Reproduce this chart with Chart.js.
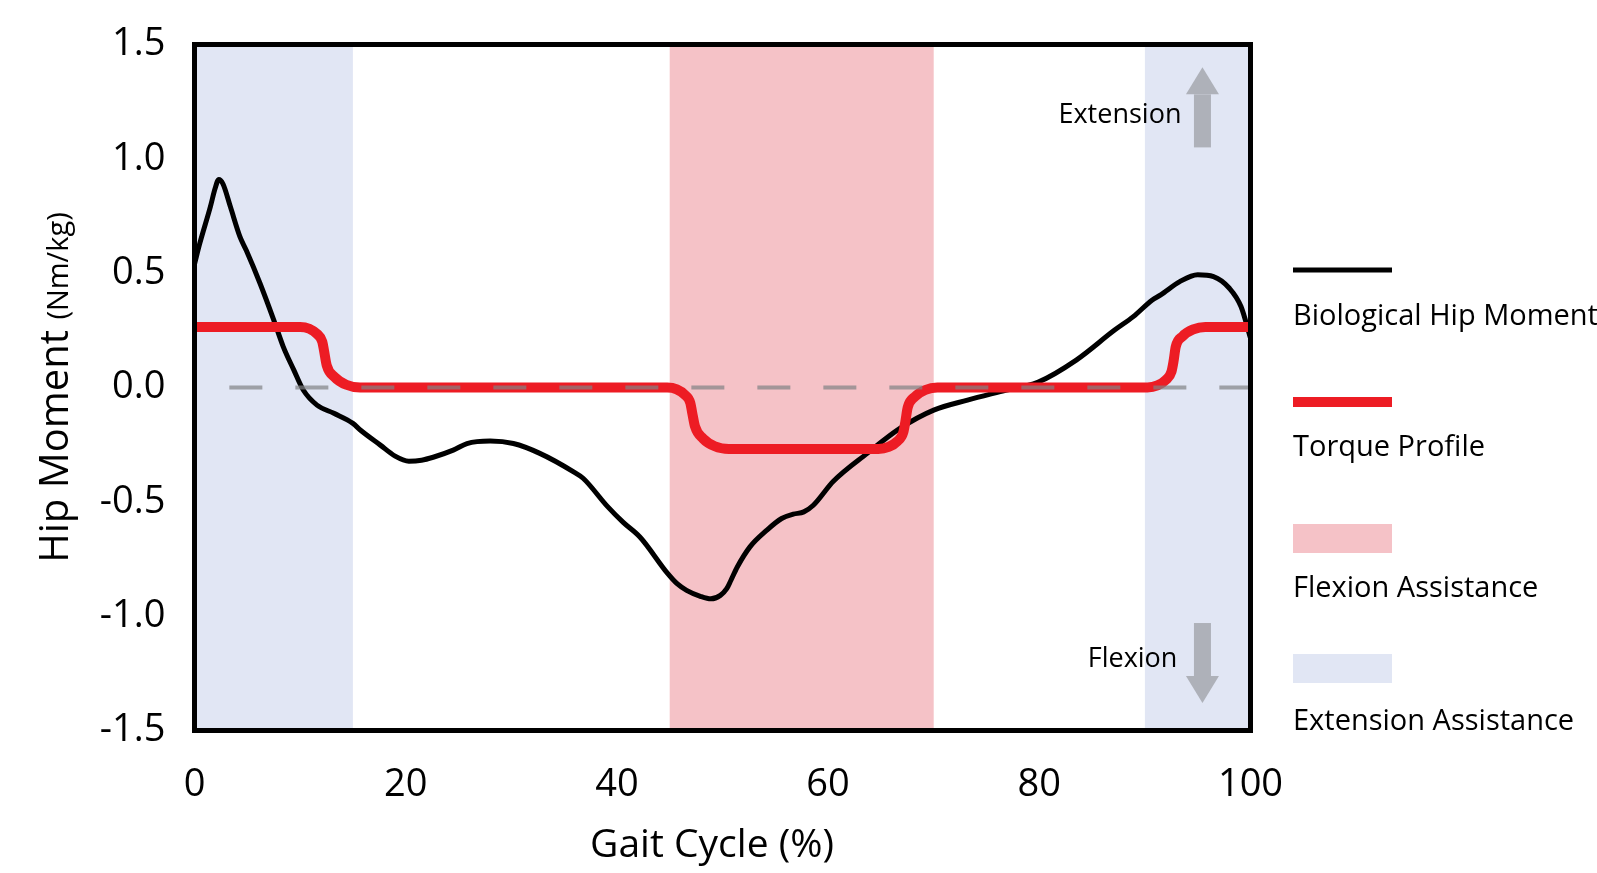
<!DOCTYPE html>
<html>
<head>
<meta charset="utf-8">
<title>Hip Moment</title>
<script src="https://cdn.jsdelivr.net/npm/chart.js@4.4.1/dist/chart.umd.min.js"></script>
<style>
  html, body { margin: 0; padding: 0; background: #fff; }
  #wrap { position: relative; width: 1597px; height: 873px; }
</style>
</head>
<body>
<div id="wrap"><canvas id="grafico"></canvas></div>
<script>
// biological hip moment
const gaitX = [0, 0.5, 1.5, 1.95, 2.3, 2.7, 3.4, 4.3, 4.9, 6.2, 7.5, 8.4, 9.4, 10.3, 11.6, 13.2, 15.0, 15.7, 17.6, 19.0,
  20.3, 21.5, 22.6, 24.5, 25.8, 28.0, 30.2, 32.7, 35.9, 36.8, 39.1, 40.6, 42.2, 44.8, 45.7, 46.6, 47.9, 48.9, 49.8, 50.4,
  50.8, 51.4, 52.6, 54.2, 55.6, 56.7, 57.7, 58.6, 60.5, 63.7, 66.8, 70.0, 73.2, 76.3, 79.9, 83.5, 87.1, 88.9, 90.7, 91.5,
  93.3, 95.0, 96.5, 98.0, 99.1, 100];
const hipMoment = [0.54, 0.63, 0.79, 0.87, 0.91, 0.89, 0.79, 0.66, 0.60, 0.456, 0.296, 0.179, 0.077, -0.011, -0.077, -0.113, -0.157, -0.186, -0.252, -0.30,
  -0.322, -0.318, -0.305, -0.274, -0.245, -0.234, -0.245, -0.288, -0.369, -0.397, -0.52, -0.59, -0.655, -0.813, -0.858, -0.887, -0.913, -0.924, -0.909, -0.88,
  -0.843, -0.785, -0.697, -0.624, -0.573, -0.554, -0.544, -0.515, -0.41, -0.288, -0.179, -0.099, -0.055, -0.018, 0.024, 0.12, 0.25, 0.31, 0.383, 0.405,
  0.463, 0.493, 0.485, 0.434, 0.354, 0.216];

// torque profile (red), rounded steps
const torqueX = [0, 10.0, 10.87, 11.61, 12.1, 12.27, 12.52, 13.26, 14.37, 15.68,
  44.77, 45.67, 46.44, 46.95, 47.13, 47.40, 48.15, 49.27, 50.6,
  64.75, 65.73, 66.56, 67.12, 67.31, 67.54, 68.2, 69.2, 70.35,
  90.24, 91.19, 91.99, 92.52, 92.71, 92.92, 93.57, 94.58, 95.73, 100];
const torqueY = [0.265, 0.265, 0.257, 0.234, 0.200, 0.160, 0.097, 0.046, 0.012, 0,
  0, -0.008, -0.032, -0.067, -0.110, -0.171, -0.223, -0.257, -0.269,
  -0.269, -0.260, -0.235, -0.196, -0.151, -0.087, -0.041, -0.011, 0,
  0, 0.009, 0.033, 0.070, 0.114, 0.178, 0.224, 0.254, 0.265, 0.265];

// dashed zero reference
const zeroX = [3.3, 100];
const zeroY = [0, 0];

// assistance bands
const bandStart = [0, 45, 90];
const bandEnd = [15, 70, 100];
const bandKind = ["ext", "flex", "ext"];

const legendLabels = ["Biological Hip Moment", "Torque Profile", "Flexion Assistance", "Extension Assistance"];

const FONT = "'Open Sans', 'DejaVu Sans', sans-serif";
const RED = "#ed1c24";
const PINK = "#f5c2c7";
const BLUE = "#e1e6f4";
const ARROW = "#aeb1b9";

function pares(xs, ys) {
  return xs.map((x, i) => ({ x, y: ys[i] }));
}

const bandsPlugin = {
  id: "bands",
  beforeDatasetsDraw(chart) {
    const { ctx, chartArea, scales: { x } } = chart;
    ctx.save();
    bandStart.forEach((ini, i) => {
      const x0 = x.getPixelForValue(ini);
      const x1 = x.getPixelForValue(bandEnd[i]);
      ctx.fillStyle = bandKind[i] === "flex" ? PINK : BLUE;
      ctx.fillRect(x0, chartArea.top, x1 - x0, chartArea.bottom - chartArea.top);
    });
    ctx.restore();
  }
};

function seta(ctx, cx, yBase, yTip) {
  const dir = yTip < yBase ? -1 : 1;
  const head = 27;
  const yNeck = yTip - dir * head;
  ctx.fillStyle = ARROW;
  ctx.fillRect(cx - 8.5, Math.min(yBase, yNeck), 17, Math.abs(yNeck - yBase));
  ctx.beginPath();
  ctx.moveTo(cx - 16.5, yNeck);
  ctx.lineTo(cx + 16.5, yNeck);
  ctx.lineTo(cx, yTip);
  ctx.closePath();
  ctx.fill();
}

const framePlugin = {
  id: "frame",
  afterDatasetsDraw(chart) {
    const { ctx, chartArea: a, scales: { x, y } } = chart;
    ctx.save();
    // arrows + direction labels
    seta(ctx, x.getPixelForValue(95.45), y.getPixelForValue(1.05), y.getPixelForValue(1.40));
    seta(ctx, x.getPixelForValue(95.45), y.getPixelForValue(-1.03), y.getPixelForValue(-1.38));
    ctx.fillStyle = "#000";
    ctx.font = "27px " + FONT;
    ctx.textAlign = "right";
    ctx.textBaseline = "alphabetic";
    ctx.fillText("Extension", x.getPixelForValue(93.46), y.getPixelForValue(1.158));
    ctx.fillText("Flexion", x.getPixelForValue(93.08), y.getPixelForValue(-1.224));

    ctx.strokeStyle = "#000";
    ctx.lineWidth = 5;
    ctx.strokeRect(a.left, a.top, a.right - a.left, a.bottom - a.top);
    ctx.restore();
  },
  afterDraw(chart) {
    const { ctx, chartArea: a } = chart;
    ctx.save();
    // y title with smaller units
    const big = "40px " + FONT;
    const small = "29px " + FONT;
    ctx.font = big;
    const w1 = ctx.measureText("Hip Moment ").width;
    ctx.font = small;
    const w2 = ctx.measureText("(Nm/kg)").width;
    const start = (a.top + a.bottom) / 2 + (w1 + w2) / 2;
    ctx.translate(68, start);
    ctx.rotate(-Math.PI / 2);
    ctx.fillStyle = "#000";
    ctx.textAlign = "left";
    ctx.textBaseline = "alphabetic";
    ctx.font = big;
    ctx.fillText("Hip Moment ", 0, 0);
    ctx.font = small;
    ctx.fillText("(Nm/kg)", w1, 0);
    ctx.restore();

    // x title
    ctx.save();
    ctx.font = "39px " + FONT;
    ctx.fillStyle = "#000";
    ctx.textAlign = "center";
    ctx.textBaseline = "alphabetic";
    ctx.fillText("Gait Cycle (%)", 712, 857);
    ctx.restore();

    // legend on the right
    ctx.save();
    const lx = 1293, lw = 99;
    const itens = [
      { tipo: "line", cor: "#000", esp: 5, y: 270, ty: 325 },
      { tipo: "line", cor: RED, esp: 10, y: 402, ty: 456 },
      { tipo: "box", cor: PINK, y: 524, h: 29, ty: 597 },
      { tipo: "box", cor: BLUE, y: 654, h: 29, ty: 730 }
    ];
    ctx.font = "29px " + FONT;
    ctx.textAlign = "left";
    ctx.textBaseline = "alphabetic";
    itens.forEach((it, i) => {
      if (it.tipo === "line") {
        ctx.strokeStyle = it.cor;
        ctx.lineWidth = it.esp;
        ctx.beginPath();
        ctx.moveTo(lx, it.y);
        ctx.lineTo(lx + lw, it.y);
        ctx.stroke();
      } else {
        ctx.fillStyle = it.cor;
        ctx.fillRect(lx, it.y, lw, it.h);
      }
      ctx.fillStyle = "#000";
      ctx.fillText(legendLabels[i], lx, it.ty);
    });
    ctx.restore();
  }
};

const ctx = document.getElementById("grafico").getContext("2d");
const grafico = new Chart(ctx, {
  type: "line",
  data: {
    datasets: [
      {
        label: "zero",
        data: pares(zeroX, zeroY),
        borderColor: "rgba(128,130,133,0.7)",
        borderWidth: 4,
        borderDash: [33, 33],
        pointRadius: 0
      },
      {
        label: legendLabels[1],
        data: pares(torqueX, torqueY),
        borderColor: RED,
        borderWidth: 10,
        cubicInterpolationMode: "monotone",
        borderJoinStyle: "round",
        pointRadius: 0
      },
      {
        label: legendLabels[0],
        data: pares(gaitX, hipMoment),
        borderColor: "#000",
        borderWidth: 5,
        cubicInterpolationMode: "monotone",
        borderJoinStyle: "round",
        pointRadius: 0
      }
    ]
  },
  options: {
    responsive: true,
    maintainAspectRatio: false,
    animation: false,
    layout: { padding: { top: 44.5, right: 346.5, left: 0, bottom: 0 } },
    plugins: {
      legend: { display: false },
      tooltip: { enabled: false }
    },
    scales: {
      x: {
        type: "linear",
        min: 0,
        max: 100,
        afterFit: s => { s.height = 142.5; },
        grid: { display: false, drawTicks: false },
        border: { display: false },
        ticks: { stepSize: 20, padding: 32, maxRotation: 0, color: "#000", font: { family: FONT, size: 38 } }
      },
      y: {
        min: -1.5,
        max: 1.5,
        afterFit: s => { s.width = 194.5; },
        // tick length (not drawn) keeps the labels off the axis without padding the top
        grid: { display: false, drawTicks: true, tickLength: 29 },
        border: { display: false },
        ticks: {
          stepSize: 0.5,
          padding: 0,
          color: "#000",
          font: { family: FONT, size: 38 },
          callback: v => v.toFixed(1)
        }
      }
    }
  },
  plugins: [bandsPlugin, framePlugin]
});
</script>
</body>
</html>
